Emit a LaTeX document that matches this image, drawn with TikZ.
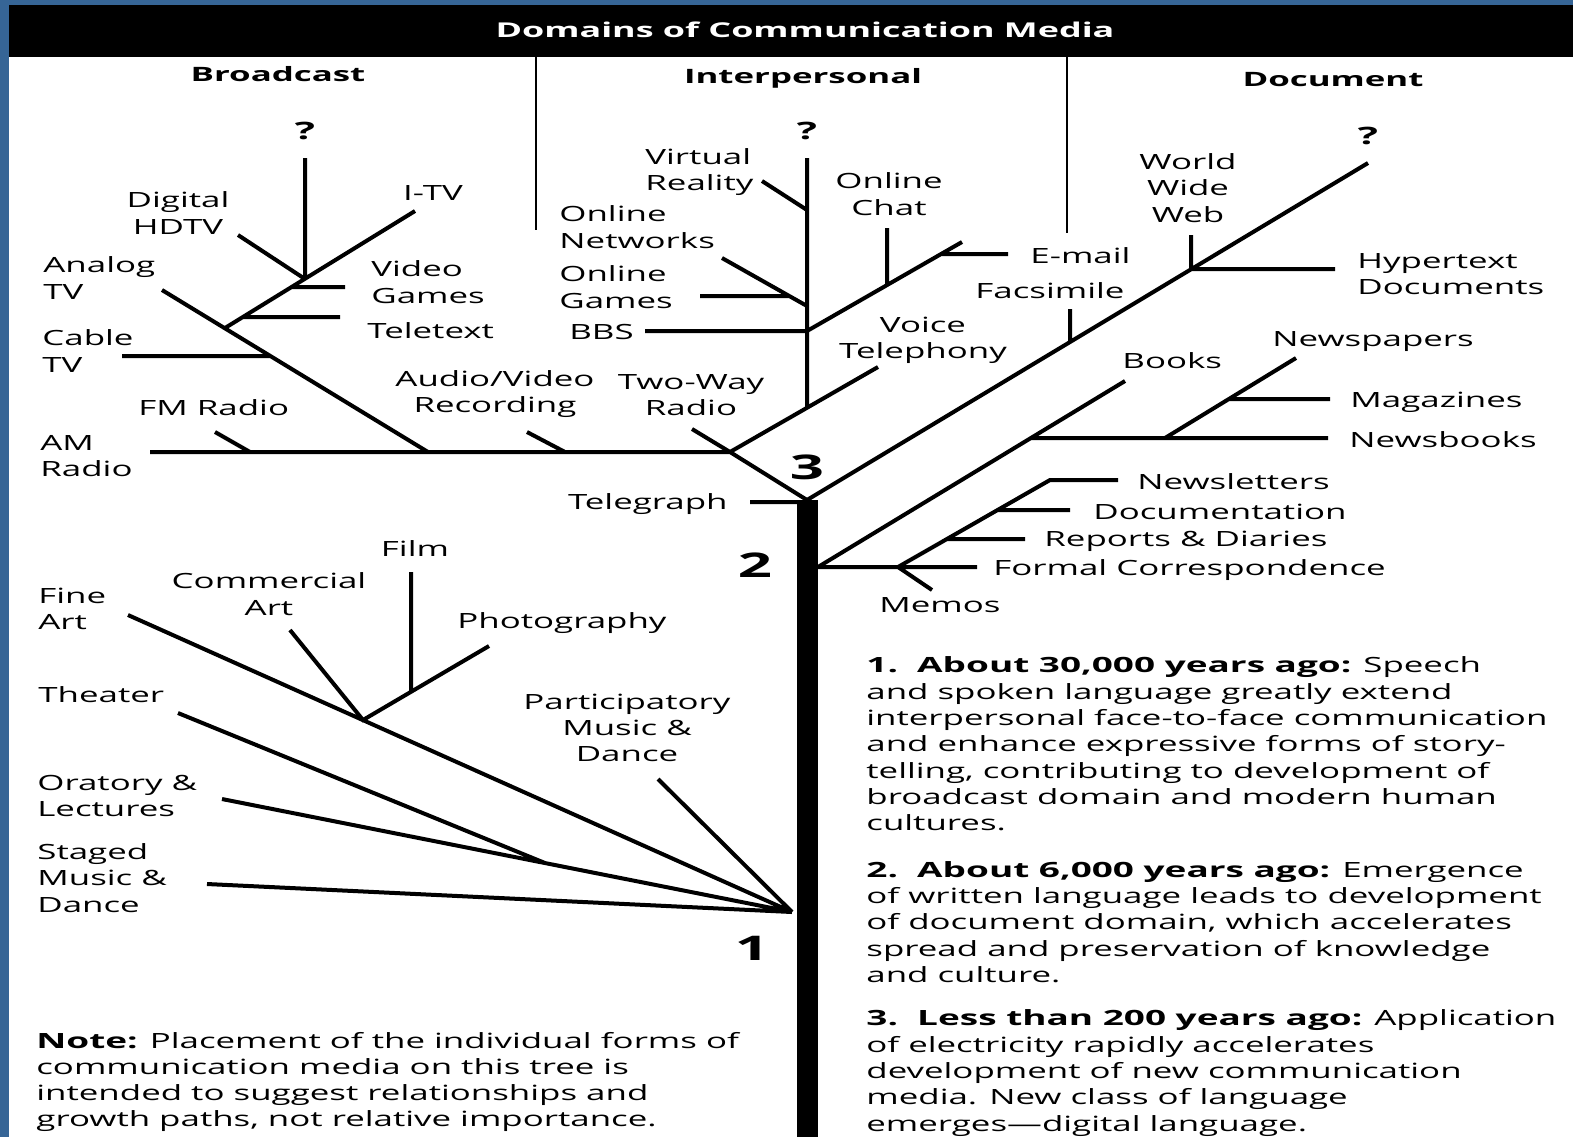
\documentclass[tikz,border=0pt]{standalone}
\usepackage{fontspec}
\setmainfont{Open Sans}[FakeStretch=1.66,BoldFeatures={FakeStretch=1.76}]
\usetikzlibrary{positioning}
\definecolor{frameblue}{RGB}{54,101,150}

\begin{document}
\begin{tikzpicture}[x=0.5pt,y=-0.5pt,
  br/.style={line width=2pt},
  sep/.style={line width=1pt},
  lbl/.style={inner sep=0pt,font=\fontsize{10.5}{13.15}\selectfont},
  lblc/.style={lbl,align=center},
  lbll/.style={lbl,align=left,anchor=west},
  hd/.style={inner sep=0pt,font=\fontsize{9.9}{13}\selectfont\bfseries},
  num/.style={inner sep=0pt,font=\fontsize{17}{20}\selectfont\bfseries},
  qm/.style={inner sep=0pt,font=\fontsize{12}{14}\selectfont\bfseries}]
  \useasboundingbox (0,0) rectangle (1573,1137);
  \fill[frameblue] (0,0) rectangle (1573,1137);
  \fill[white] (9,5) rectangle (1573,1137);
  \fill[black] (9,5) rectangle (1573,57);
  \node[hd,white,font=\fontsize{10.2}{13}\selectfont\bfseries] (title) at (805,30) {Domains of Communication Media};

  \node[hd] (broadcast) at (278,74) {Broadcast};
  \node[hd] (interpersonal) at (803,78) {Interpersonal};
  \node[hd] (document) at (1333,80) {Document};
  \coordinate (sep_a) at (536,57);
  \coordinate (sep_a_end) at (536,230);
  \coordinate (sep_b) at (1067,57);
  \coordinate (sep_b_end) at (1067,233);
  \draw[sep] (sep_a) -- (sep_a_end) (sep_b) -- (sep_b_end);

  \fill (797,500) rectangle (818,1137);
  \coordinate (trunk_top) at (807,500);
  \coordinate (j_1) at (792,912);
  \coordinate (j_2) at (818,567);
  \coordinate (j_3) at (730,452);

  \coordinate (am_l) at (150,452);
  \coordinate (fm_t) at (215,432);
  \coordinate (fm_b) at (250,452);
  \coordinate (av_t) at (527,432);
  \coordinate (av_b) at (565,452);
  \coordinate (tw_t) at (692,429);
  \coordinate (an_t) at (162,290);
  \coordinate (an_b) at (428,452);
  \coordinate (cab_l) at (122,356);
  \coordinate (cab_r) at (270,356);
  \coordinate (j_b) at (225,328);
  \coordinate (itv_e) at (415,211);
  \coordinate (tt_l) at (243,317);
  \coordinate (tt_r) at (340,317);
  \coordinate (vg_l) at (292,287);
  \coordinate (vg_r) at (345,287);
  \coordinate (j_q) at (305,279);
  \coordinate (q_b) at (305,158);
  \coordinate (hd_t) at (238,235);
  \draw[br] (am_l) -- (j_3) (fm_t) -- (fm_b) (av_t) -- (av_b)
    (tw_t) -- (j_3) -- (trunk_top) (an_t) -- (an_b) (cab_l) -- (cab_r)
    (j_b) -- (itv_e) (tt_l) -- (tt_r) (vg_l) -- (vg_r) (j_q) -- (q_b)
    (hd_t) -- (j_q);
  \node[qm,above=9pt of q_b] (q_1) {?};
  \node[lblc] (hdtv) at (178,213) {Digital\\HDTV};
  \node[lbl] (itv) at (433,193) {I-TV};
  \node[lbll] (analog) at (43,278) {Analog\\TV};
  \node[lbll] (video) at (371,282) {Video\\Games};
  \node[lbll] (teletext) at (367,331) {Teletext};
  \node[lbll] (cable) at (42,351) {Cable\\TV};
  \node[lbll] (fm) at (138,408) {FM Radio};
  \node[lbll] (am) at (40,456) {AM\\Radio};
  \node[lblc] (audio) at (495,394) {Audio/Video\\Recording};
  \node[lblc] (twoway) at (691,395) {Two-Way\\Radio};

  \coordinate (ip_b) at (807,408);
  \coordinate (q_i) at (807,158);
  \coordinate (vr_t) at (762,181);
  \coordinate (vr_b) at (807,210);
  \coordinate (on_t) at (722,258);
  \coordinate (on_b) at (807,306);
  \coordinate (og_l) at (700,296);
  \coordinate (og_r) at (789,296);
  \coordinate (bbs_l) at (645,331);
  \coordinate (j_i) at (807,331);
  \coordinate (em_e) at (962,242);
  \coordinate (ch_t) at (887,228);
  \coordinate (ch_b) at (887,285);
  \coordinate (em_l) at (941,254);
  \coordinate (em_r) at (1008,254);
  \coordinate (vt_e) at (878,367);
  \draw[br] (ip_b) -- (q_i) (vr_t) -- (vr_b) (on_t) -- (on_b) (og_l) -- (og_r)
    (bbs_l) -- (j_i) -- (em_e) (ch_t) -- (ch_b) (em_l) -- (em_r)
    (j_3) -- (vt_e);
  \node[qm,above=9pt of q_i] (q_2) {?};
  \node[lbll] (virtual) at (645,172) {Virtual\\Reality};
  \node[lbll] (networks) at (559,227) {Online\\Networks};
  \node[lbll] (games) at (559,287) {Online\\Games};
  \node[lbll] (bbs) at (569,332) {BBS};
  \node[lblc] (chat) at (889,194) {Online\\Chat};
  \node[lbll] (email) at (1030,256) {E-mail};
  \node[lblc] (voice) at (923,340) {Voice\\Telephony};
  \node[lblc] (fax) at (1050,291) {Facsimile};

  \coordinate (d_e) at (1368,163);
  \coordinate (fx_b) at (1070,342);
  \coordinate (fx_t) at (1070,309);
  \coordinate (ww_b) at (1191,269);
  \coordinate (ww_t) at (1191,235);
  \coordinate (hy_r) at (1335,269);
  \coordinate (bk_e) at (1125,381);
  \coordinate (nb_l) at (1030,438);
  \coordinate (nb_r) at (1328,438);
  \coordinate (np_b) at (1165,438);
  \coordinate (np_e) at (1296,358);
  \coordinate (mg_l) at (1229,399);
  \coordinate (mg_r) at (1330,399);
  \coordinate (fc_r) at (977,567);
  \coordinate (j_m) at (898,567);
  \coordinate (nl_l) at (1050,480);
  \coordinate (nl_r) at (1118,480);
  \coordinate (dc_l) at (998,510);
  \coordinate (dc_r) at (1070,510);
  \coordinate (rp_l) at (947,539);
  \coordinate (rp_r) at (1025,539);
  \coordinate (mm_e) at (932,590);
  \coordinate (tg_l) at (750,502);
  \coordinate (tg_r) at (797,502);
  \draw[br] (trunk_top) -- (d_e) (fx_b) -- (fx_t) (ww_b) -- (ww_t) (ww_b) -- (hy_r)
    (j_2) -- (bk_e) (nb_l) -- (nb_r) (np_b) -- (np_e) (mg_l) -- (mg_r)
    (j_2) -- (fc_r) (j_m) -- (nl_l) -- (nl_r) (dc_l) -- (dc_r) (rp_l) -- (rp_r)
    (j_m) -- (mm_e) (tg_l) -- (tg_r);
  \node[qm,above=9pt of d_e] (q_3) {?};
  \node[lblc] (www) at (1188,188) {World\\Wide\\Web};
  \node[lbll] (hypertext) at (1357,274) {Hypertext\\Documents};
  \node[lbll] (newspapers) at (1272,342) {Newspapers};
  \node[lbll] (books) at (1122,361) {Books};
  \node[lbll] (magazines) at (1350,402) {Magazines};
  \node[lbll] (newsbooks) at (1349,440) {Newsbooks};
  \node[lbll] (newsletters) at (1137,482) {Newsletters};
  \node[lbll] (documentation) at (1093,512) {Documentation};
  \node[lbll] (reports) at (1044,541) {Reports \& Diaries};
  \node[lbll] (formal) at (993,570) {Formal Correspondence};
  \node[lbll] (memos) at (879,605) {Memos};
  \node[lbl,anchor=east] (telegraph) at (728,504) {Telegraph};

  \node[num] (n_3) at (807,467) {3};
  \node[num] (n_2) at (755,565) {2};
  \node[num] (n_1) at (752,948) {1};

  \coordinate (sg_l) at (207,884);
  \coordinate (or_l) at (222,799);
  \coordinate (th_l) at (178,713);
  \coordinate (th_j) at (545,863);
  \coordinate (fa_l) at (128,615);
  \coordinate (j_c) at (363,720);
  \coordinate (ca_t) at (290,630);
  \coordinate (ph_e) at (489,646);
  \coordinate (fl_b) at (411,692);
  \coordinate (fl_t) at (411,572);
  \coordinate (pm_t) at (658,779);
  \draw[br] (sg_l) -- (j_1) (or_l) -- (j_1) (th_l) -- (th_j) (fa_l) -- (j_1)
    (ca_t) -- (j_c) -- (ph_e) (fl_b) -- (fl_t) (pm_t) -- (j_1);
  \node[lbll] (fineart) at (38,609) {Fine\\Art};
  \node[lblc] (commercial) at (269,594) {Commercial\\Art};
  \node[lbl] (film) at (415,549) {Film};
  \node[lbll] (photo) at (457,623) {Photography};
  \node[lbll] (theater) at (38,695) {Theater};
  \node[lblc] (particip) at (627,728) {Participatory\\Music \&\\Dance};
  \node[lbll] (oratory) at (37,796) {Oratory \&\\Lectures};
  \node[lbll] (staged) at (37,878) {Staged\\Music \&\\Dance};

  \node[lbll] (note) at (36,1082) {\textbf{Note:} Placement of the individual forms of\\communication media on this tree is\\intended to suggest relationships and\\growth paths, not relative importance.};
  \node[lbll] (step_1) at (866,744) {\textbf{1.\ \ About 30,000 years ago:} Speech\\and spoken language greatly extend\\interpersonal face-to-face communication\\and enhance expressive forms of story-\\telling, contributing to development of\\broadcast domain and modern human\\cultures.};
  \node[lbll] (step_2) at (866,922) {\textbf{2.\ \ About 6,000 years ago:} Emergence\\of written language leads to development\\of document domain, which accelerates\\spread and preservation of knowledge\\and culture.};
  \node[lbll] (step_3) at (866,1073) {\textbf{3.\ \ Less than 200 years ago:} Application\\of electricity rapidly accelerates\\development of new communication\\media. New class of language\\emerges---digital language.};
\end{tikzpicture}
\end{document}
